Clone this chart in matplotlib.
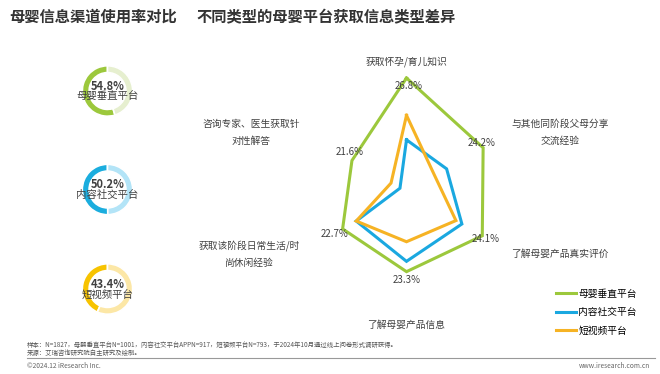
import numpy as np
import matplotlib
matplotlib.use("Agg")
import matplotlib.pyplot as plt

plt.rcParams['font.family'] = ['Noto Sans CJK SC', 'DejaVu Sans']

# donut data
platforms = ["母婴垂直平台", "内容社交平台", "短视频平台"]
usage = [54.8, 50.2, 43.4]
dark_cols = ["#9cc83c", "#1badde", "#f7c300"]
light_cols = ["#e6efcf", "#b3e4f7", "#fce7a6"]

# radar data
categories = [["获取怀孕/育儿知识"], ["与其他同阶段父母分享", "交流经验"], ["了解母婴产品真实评价"],
              ["了解母婴产品信息"], ["获取该阶段日常生活/时", "尚休闲经验"], ["咨询专家、医生获取针", "对性解答"]]
vertical = [26.8, 24.2, 24.1, 23.3, 22.7, 21.6]
social = [20.5, 19.9, 21.7, 22.25, 21.1, 15.95]
video = [23.0, 18.5, 21.0, 20.25, 21.1, 17.0]
line_cols = ["#9cc83c", "#1aa8e0", "#f6b324"]

W, H = 660, 374
fig = plt.figure(figsize=(6.6, 3.74), dpi=100)
txt = "#404040"

def fx(x):
    return x / W

def fy(y):
    return 1 - y / H

# title
fig.text(fx(9), fy(17), "母婴信息渠道使用率对比", fontsize=11, fontweight="bold",
         color="#333333", va="center", ha="left")
fig.text(fx(196), fy(17), "不同类型的母婴平台获取信息类型差异", fontsize=11, fontweight="bold",
         color="#333333", va="center", ha="left")

# donuts
centers = [91, 189.5, 289]
R = 31.5
for i in range(3):
    cy = centers[i]
    dax = fig.add_axes([fx(107.5 - R), fy(cy + R), 2 * R / W, 2 * R / H])
    dax.pie([usage[i], 100 - usage[i]], colors=[dark_cols[i], light_cols[i]],
            startangle=90, counterclock=True, radius=1,
            wedgeprops=dict(width=0.27, edgecolor="white", linewidth=1.2))
    dax.set_aspect("equal")
    dax.text(0, 0.19, "%.1f%%" % usage[i], ha="center", va="center",
             fontsize=8, fontweight="bold", color=txt)
    dax.text(0, -0.21, platforms[i], ha="center", va="center", fontsize=7.5, color=txt)

# radar
rmin, rmax = 15.18, 27.0
scale = 9.81
rad_px = (rmax - rmin) * scale
cx, cy = 406.5, 192
ax = fig.add_axes([fx(cx - rad_px), fy(cy + rad_px), 2 * rad_px / W, 2 * rad_px / H],
                  projection="polar")
ax.set_theta_zero_location("N")
ax.set_theta_direction(-1)
ang = np.deg2rad(np.arange(0, 360, 60))
angc = np.append(ang, ang[0])
for vals, col, nm in [(vertical, line_cols[0], platforms[0]), (social, line_cols[1], platforms[1]),
                      (video, line_cols[2], platforms[2])]:
    v = np.append(vals, vals[0])
    ax.plot(angc, v, color=col, linewidth=2, label=nm, solid_joinstyle="miter")
ax.set_ylim(rmin, rmax)
ax.set_xticks([])
ax.set_yticks([])
ax.grid(False)
ax.spines["polar"].set_visible(False)
ax.patch.set_alpha(0)

# value labels for green series
offs = [(1.7, -5.8), (-1.2, 3.6), (2.4, -2.2), (0, -6), (-5.5, -3.6), (-2, 6.3)]
for a, v, o in zip(ang, vertical, offs):
    ax.annotate("%.1f%%" % v, (a, v), xytext=o, textcoords="offset points",
                ha="center", va="center", fontsize=7, color=txt)

# category labels
cat_pos = [(406, 62), (560, 132), (560, 254), (406, 325), (249, 254.5), (251.5, 132)]
for (x, y), lines in zip(cat_pos, categories):
    n = len(lines)
    for k, s in enumerate(lines):
        yy = y + (k - (n - 1) / 2) * 17
        fig.text(fx(x), fy(yy), s, ha="center", va="center", fontsize=7, color=txt)

# legend
handles, labels = ax.get_legend_handles_labels()
for h in handles:
    h.set_linewidth(2.2)
fig.legend(handles, labels, loc="upper left", bbox_to_anchor=(fx(552), fy(285)),
           frameon=False, fontsize=7, handlelength=2.1, handletextpad=0.2,
           labelspacing=0.87, borderaxespad=0)

# footer
fig.text(fx(27), fy(345), "样本：N=1827，母婴垂直平台N=1001，内容社交平台APPN=917，短视频平台N=793，于2024年10月通过线上问卷形式调研获得。",
         fontsize=4.6, color="#555555", va="center")
fig.text(fx(27), fy(353), "来源：艾瑞咨询研究院自主研究及绘制。", fontsize=4.6, color="#555555", va="center")
fig.add_artist(plt.Line2D([fx(27), fx(655)], [fy(358), fy(358)], color="#999999", linewidth=0.8))
fig.text(fx(27), fy(366), "©2024.12 iResearch Inc.", fontsize=4.8, color="#666666", va="center")
fig.text(fx(650), fy(366), "www.iresearch.com.cn", fontsize=4.8, color="#666666", va="center", ha="right")

fig.savefig("out.png", dpi=100)
